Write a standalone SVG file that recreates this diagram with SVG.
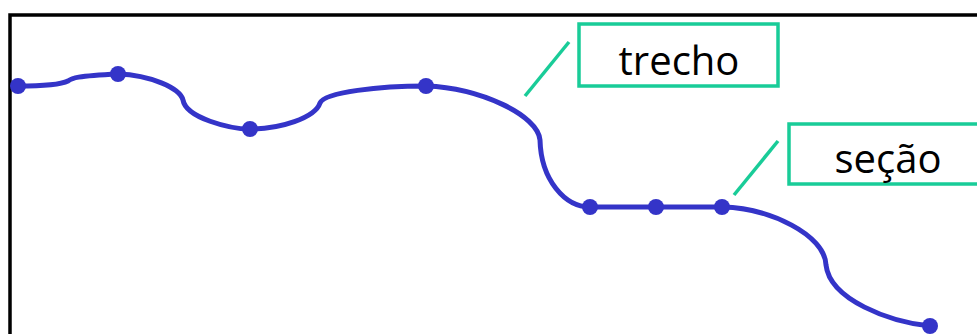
<svg xmlns="http://www.w3.org/2000/svg" width="977" height="334" viewBox="0 0 977 334">
  <style>
    .frame { fill: none; stroke: #000; stroke-width: 3.5; }
    .route { fill: none; stroke: #3434c8; stroke-width: 5; stroke-linecap: round; stroke-linejoin: round; }
    .stop { fill: #3434c8; }
    .label-box { fill: #fff; stroke: #19cc98; stroke-width: 3.5; }
    .leader { stroke: #19cc98; stroke-width: 3.5; }
    .label { font-family: "Open Sans", "Liberation Sans", sans-serif; font-size: 40px; fill: #000; text-anchor: middle; }
  </style>

  <!-- plot frame (open to the right and bottom) -->
  <rect class="frame" x="10" y="15" width="1000" height="340"/>

  <!-- the route line -->
  <g id="connectors">
    <path class="route" d="M18,86 C40,86 60,85 68,81 C72,78 76,76 118,74
      C150,75 180,88 183,100 C186,118 230,129 250,129
      C280,129 315,118 320,103 C325,92 380,86 426,86
      C480,88 538,115 540,140 C541,180 565,207 590,207
      L722,207
      C770,208 825,235 826,265 C830,300 890,322 930,326"/>
    <line class="leader" x1="525" y1="96" x2="569" y2="42"/>
    <line class="leader" x1="734" y1="195" x2="778" y2="141"/>
  </g>

  <!-- points along the route -->
  <g id="stops">
    <circle class="stop" cx="18" cy="86" r="8"/>
    <circle class="stop" cx="118" cy="74" r="8"/>
    <circle class="stop" cx="250" cy="129" r="8"/>
    <circle class="stop" cx="426" cy="86" r="8"/>
    <circle class="stop" cx="590" cy="207" r="8"/>
    <circle class="stop" cx="656" cy="207" r="8"/>
    <circle class="stop" cx="722" cy="207" r="8"/>
    <circle class="stop" cx="930" cy="326" r="8"/>
  </g>

  <g id="trecho">
    <rect class="label-box" x="579" y="24" width="199" height="62"/>
    <text class="label" x="679" y="75">trecho</text>
  </g>

  <g id="secao">
    <rect class="label-box" x="789" y="124" width="210" height="60"/>
    <text class="label" x="888" y="173">seção</text>
  </g>
</svg>
